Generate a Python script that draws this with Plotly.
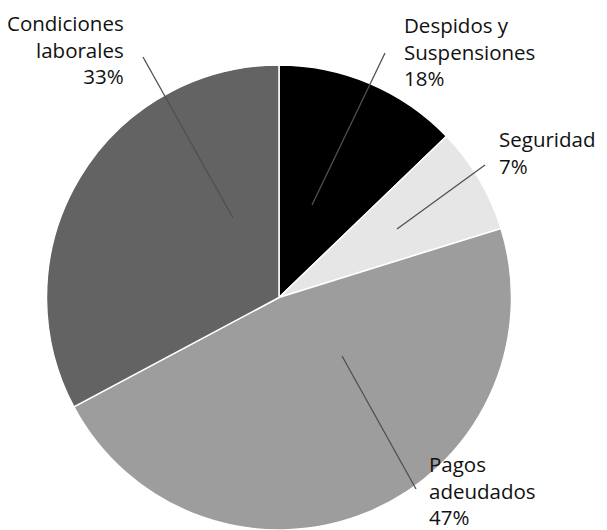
import plotly.graph_objects as go

# Data
categories = ["Despidos y<br>Suspensiones", "Seguridad", "Pagos<br>adeudados", "Condiciones<br>laborales"]
values = [12.8, 7.4, 47.0, 32.8]
pct_labels = ["18%", "7%", "47%", "33%"]
colors = ["#000000", "#e6e6e6", "#9d9d9d", "#636363"]

W, H = 607, 530

def px(x):
    return x / W

def py(y):
    return 1 - y / H

fig = go.Figure(go.Pie(
    labels=categories,
    values=values,
    sort=False,
    direction="clockwise",
    rotation=0,
    marker=dict(colors=colors, line=dict(color="#ffffff", width=1.5)),
    textinfo="none",
    hoverinfo="label+percent",
    showlegend=False,
    domain=dict(x=[px(46), px(512)], y=[py(530), py(65)]),
))

# Label layout: (x, y, xanchor, align) in pixels
label_pos = [
    (402, 9, "left", "left"),
    (497, 123, "left", "left"),
    (427, 448, "left", "left"),
    (126, 7, "right", "right"),
]
# Leader lines: (x0, y0, x1, y1) in pixels
leaders = [
    (385, 53, 312, 205),
    (485, 165, 397, 229),
    (416, 489, 342, 356),
    (143, 57, 233, 218),
]

annotations = []
for cat, pct, (x, y, xa, al) in zip(categories, pct_labels, label_pos):
    annotations.append(dict(
        x=px(x), y=py(y), xref="paper", yref="paper",
        xanchor=xa, yanchor="top", align=al,
        text=f"{cat}<br>{pct}", showarrow=False,
        font=dict(family="Open Sans", size=20.5, color="#111111"),
    ))

shapes = []
for (x0, y0, x1, y1) in leaders:
    shapes.append(dict(
        type="line", xref="paper", yref="paper",
        x0=px(x0), y0=py(y0), x1=px(x1), y1=py(y1),
        line=dict(color="#505050", width=1.3),
    ))

fig.update_layout(
    width=W, height=H,
    margin=dict(l=0, r=0, t=0, b=0),
    paper_bgcolor="#ffffff",
    plot_bgcolor="#ffffff",
    annotations=annotations,
    shapes=shapes,
)

fig.write_html(
    "out.html",
    config={"displayModeBar": False},
    post_script="document.body.style.margin='0';document.body.style.overflow='hidden';",
)
